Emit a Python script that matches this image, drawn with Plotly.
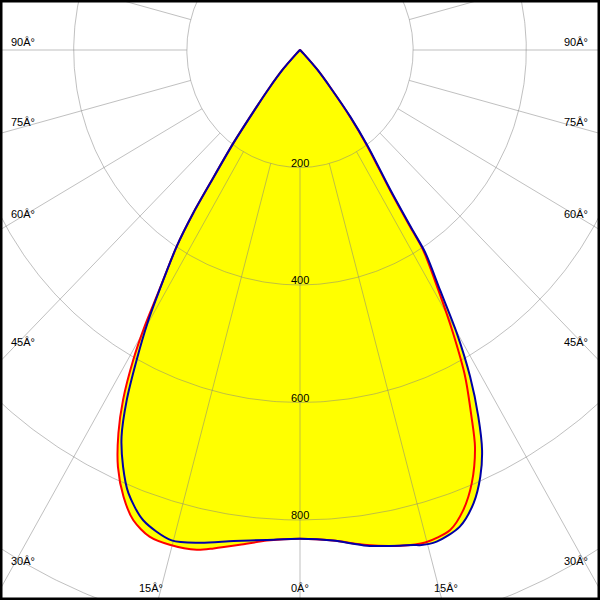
import numpy as np
import plotly.graph_objects as go

# ---- data (angle in degrees, negative = left side; intensity in cd) ----
angles_red = [-90, -50, -45, -42.5, -40, -38.4, -36.6, -35, -34.2, -33.1, -31.3, -30.3, -29.2,
              -27.7, -26.2, -24.4, -22.3, -20.2, -17.8, -15.3, -12.1, -10.2, -7.2, -4, 0, 4, 8,
              11.8, 14.8, 18, 20.2, 22.4, 24.6, 25.9, 27.7, 29.3, 30.9, 32.6, 32.9, 33.7, 36.1,
              37.9, 40, 42.5, 45, 50, 90]
intensity_red = [0, 2, 10, 45, 85, 123, 198, 277, 336, 399, 480, 543, 604,
                 673, 727, 779, 822, 853, 870, 873, 870, 862, 849, 837, 832, 837, 851,
                 862, 867, 859, 835, 797, 743, 694, 628, 553, 476, 404, 358, 287, 200,
                 144, 85, 45, 10, 2, 0]

angles_blue = [-90, -50, -45, -42.5, -40, -38.4, -36.6, -35, -34.2, -33.1, -31.3, -30.1, -28.7,
               -27.2, -25.6, -23.8, -21.9, -19.1, -15.2, -11.9, -8, -4, 0, 4, 8, 11.8, 13.4,
               14.1, 16.1, 19.2, 21.7, 23.7, 25.3, 26.8, 28.4, 29.9, 31.2, 32.7, 33.0, 33.8,
               36.2, 38, 40, 42.5, 45, 50, 90]
intensity_blue = [0, 2, 10, 45, 85, 123, 198, 277, 336, 399, 478, 538, 601,
                  670, 730, 775, 813, 847, 865, 857, 844, 836, 832, 837, 852, 862, 866,
                  869, 871, 859, 830, 793, 753, 699, 632, 556, 478, 410, 362, 290,
                  202, 146, 85, 45, 10, 2, 0]

radial_ticks = [200, 400, 600, 800]
grid_circles = [200, 400, 600, 800, 1000, 1200]
angle_step = 15

left_labels = ["90Â°", "75Â°", "60Â°", "45Â°", "30Â°"]
bottom_labels = ["15Â°", "0Â°", "15Â°"]

FONT = dict(family="Liberation Sans, Arial, sans-serif", size=11, color="black")


def to_xy(angles, vals):
    a = np.radians(np.asarray(angles, dtype=float))
    r = np.asarray(vals, dtype=float)
    return r * np.sin(a), -r * np.cos(a)


fig = go.Figure()

# yellow fills (union of both curves)
for ang, val in [(angles_red, intensity_red), (angles_blue, intensity_blue)]:
    x, y = to_xy(ang, val)
    fig.add_trace(go.Scatter(x=x, y=y, mode="lines", fill="toself",
                             fillcolor="#FFFF00", line=dict(width=0, color="#FFFF00", shape="spline", smoothing=0.8),
                             hoverinfo="skip", showlegend=False))

# grid circles
t = np.linspace(0, 2 * np.pi, 721)
gx, gy = [], []
for r in grid_circles:
    gx += list(r * np.sin(t)) + [None]
    gy += list(-r * np.cos(t)) + [None]
# radial lines
for a in range(0, 360, angle_step):
    ar = np.radians(a)
    gx += [200 * np.sin(ar), 1500 * np.sin(ar), None]
    gy += [-200 * np.cos(ar), -1500 * np.cos(ar), None]
fig.add_trace(go.Scatter(x=gx, y=gy, mode="lines",
                         line=dict(color="rgba(130,130,130,0.5)", width=1),
                         hoverinfo="skip", showlegend=False))

# curves
xr, yr = to_xy(angles_red, intensity_red)
fig.add_trace(go.Scatter(x=xr, y=yr, mode="lines",
                         line=dict(color="#FF0000", width=2, shape="spline", smoothing=0.8),
                         hoverinfo="skip", showlegend=False))
xb, yb = to_xy(angles_blue, intensity_blue)
fig.add_trace(go.Scatter(x=xb, y=yb, mode="lines",
                         line=dict(color="#0000A8", width=2, shape="spline", smoothing=0.8),
                         hoverinfo="skip", showlegend=False))

annotations = []
for r in radial_ticks:
    annotations.append(dict(x=0, y=-r, xref="x", yref="y", text=str(r), showarrow=False,
                            xanchor="center", yanchor="bottom", yshift=-3, font=FONT))

label_y = [41.5, 121.5, 214.5, 341.5, 560.5]
for txt, py in zip(left_labels, label_y):
    annotations.append(dict(x=9 / 600, y=1 - py / 600, xref="paper", yref="paper", text=txt,
                            showarrow=False, xanchor="left", yanchor="middle", font=FONT))
    annotations.append(dict(x=590 / 600, y=1 - py / 600, xref="paper", yref="paper", text=txt,
                            showarrow=False, xanchor="right", yanchor="middle", font=FONT))
for txt, px in zip(bottom_labels, [151, 299.5, 446]):
    annotations.append(dict(x=px / 600, y=1 - 588 / 600, xref="paper", yref="paper", text=txt,
                            showarrow=False, xanchor="center", yanchor="middle", font=FONT))

px_per_unit_y = 0.5875
px_per_unit_x = 0.5875 * 0.963
fig.update_layout(
    width=600, height=600,
    margin=dict(l=0, r=0, t=0, b=0),
    paper_bgcolor="white", plot_bgcolor="white",
    xaxis=dict(range=[-300 / px_per_unit_x, 300 / px_per_unit_x], visible=False, fixedrange=True),
    yaxis=dict(range=[-550 / px_per_unit_y, 50 / px_per_unit_y], visible=False, fixedrange=True),
    annotations=annotations,
    shapes=[dict(type="rect", xref="paper", yref="paper", x0=0, y0=0, x1=1, y1=1,
                 line=dict(color="black", width=5))],
    showlegend=False,
)

fig.write_html("out.html", config={"displayModeBar": False},
               post_script="document.body.style.margin='0px';document.body.style.overflow='hidden';")
